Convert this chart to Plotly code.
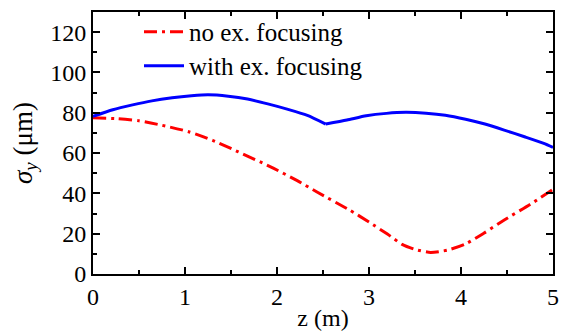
import plotly.graph_objects as go

z_red = [0.0, 0.25, 0.5, 0.75, 1.04, 1.3, 1.58, 1.93, 2.22, 2.43, 2.79, 3.0, 3.2, 3.36, 3.5, 3.67, 3.85, 4.04, 4.25, 4.47, 4.75, 5.0]
s_red = [77.5, 77.1, 76.0, 73.8, 70.6, 66.3, 60.6, 53.2, 46.3, 40.8, 31.7, 25.8, 19.8, 14.7, 12.2, 10.7, 11.8, 14.7, 20.3, 26.8, 34.5, 42.0]

# blue curve has a kink at z = 2.53, split into two smooth branches
z_blue_a = [0.0, 0.215, 0.43, 0.64, 0.86, 1.07, 1.25, 1.47, 1.68, 1.90, 2.11, 2.33, 2.53]
s_blue_a = [78.2, 81.5, 83.9, 85.9, 87.4, 88.4, 88.9, 88.2, 86.8, 84.4, 81.8, 78.7, 74.4]
z_blue_b = [2.53, 2.76, 2.97, 3.19, 3.40, 3.62, 3.83, 4.05, 4.26, 4.47, 4.69, 4.90, 5.0]
s_blue_b = [74.4, 76.4, 78.5, 79.7, 80.2, 79.8, 78.8, 76.8, 74.4, 71.4, 68.1, 64.8, 62.8]

FONT = "Liberation Serif, Times New Roman, Times, serif"

fig = go.Figure()
fig.add_trace(go.Scatter(x=z_red, y=s_red, mode="lines", name="no ex. focusing",
                         line=dict(color="#ff0000", width=3, dash="13px,5px,3px,5px", shape="spline", smoothing=0.6),
                         legend="legend"))
fig.add_trace(go.Scatter(x=z_blue_a, y=s_blue_a, mode="lines", name="with ex. focusing",
                         line=dict(color="#0000ff", width=3, shape="spline", smoothing=0.6),
                         legend="legend2", legendgroup="b"))
fig.add_trace(go.Scatter(x=z_blue_b, y=s_blue_b, mode="lines", name="with ex. focusing",
                         line=dict(color="#0000ff", width=3, shape="spline", smoothing=0.6),
                         legend="legend2", legendgroup="b", showlegend=False))

axis_common = dict(
    showline=True, linecolor="black", linewidth=2, mirror="ticks",
    ticks="inside", ticklen=7, tickwidth=2, tickcolor="black",
    showgrid=False, zeroline=False,
    tickfont=dict(family=FONT, size=24, color="black"),
)

fig.update_xaxes(range=[0, 5], dtick=1, tick0=0,
                 minor=dict(ticks="inside", dtick=0.5, ticklen=4, tickwidth=2, tickcolor="black"),
                 title=dict(text="z (m)", font=dict(family=FONT, size=24, color="black"), standoff=0),
                 **axis_common)
fig.update_yaxes(range=[0, 130], dtick=20, tick0=0,
                 minor=dict(ticks="inside", dtick=10, ticklen=4, tickwidth=2, tickcolor="black"),
                 title=dict(text="<i>σ</i><sub><i>y</i></sub> (μm)", font=dict(family=FONT, size=27, color="black"), standoff=10),
                 **axis_common)

leg = dict(bgcolor="rgba(0,0,0,0)", font=dict(family=FONT, size=25, color="black"),
           xanchor="left", yanchor="middle", itemwidth=40)
fig.update_layout(
    width=564, height=335,
    margin=dict(l=93, r=5, t=12, b=61),
    paper_bgcolor="white", plot_bgcolor="white",
    font=dict(family=FONT, color="black"),
    legend=dict(x=0.10, y=0.924, **leg),
    legend2=dict(x=0.10, y=0.794, **leg),
    showlegend=True,
)

fig.write_html("out.html", config={"displayModeBar": False},
               post_script="document.body.style.margin='0';document.body.style.overflow='hidden';")
